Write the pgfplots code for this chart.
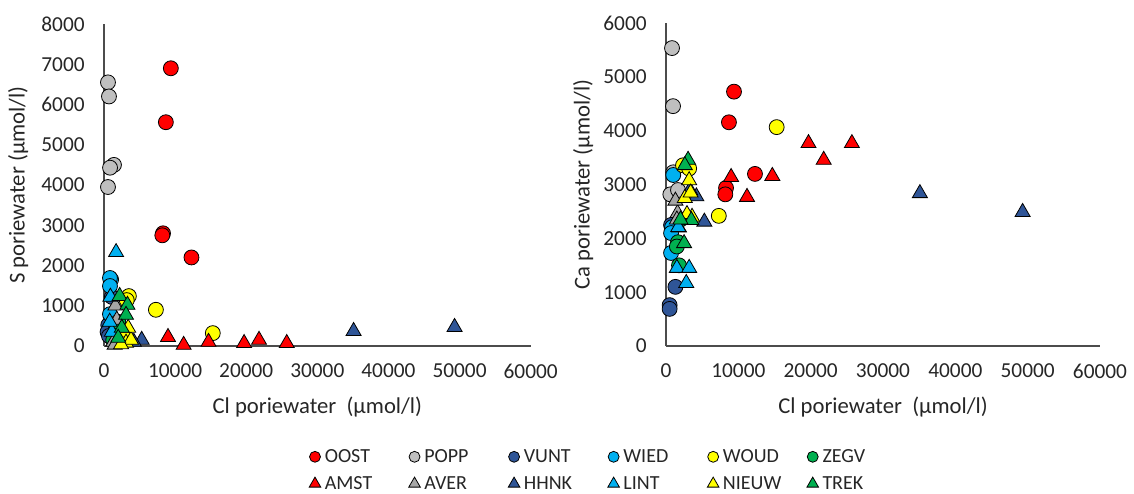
\documentclass[border=0pt]{standalone}
\usepackage{fontspec}
\setmainfont{Carlito}
\usepackage{pgfplots}
\pgfplotsset{compat=1.18}
\definecolor{cRed}{HTML}{FF0000}
\definecolor{cGray}{HTML}{BFBFBF}
\definecolor{cGrayT}{HTML}{A6A6A6}
\definecolor{cNavy}{HTML}{2F5597}
\definecolor{cSky}{HTML}{00B0F0}
\definecolor{cYel}{HTML}{FFFF00}
\definecolor{cGreen}{HTML}{00B050}
\pgfplotsset{
  base/.style={
    scale only axis,
    axis lines*=left,
    axis line style={black!70, line width=0.8pt},
    major tick length=0pt,
    xmin=0, xmax=60000,
    xtick={0,10000,20000,30000,40000,50000,60000},
    scaled ticks=false,
    /pgf/number format/1000 sep={},
    /pgf/number format/assume math mode=true,
    ticklabel style={font=\fontsize{16}{18}\selectfont, text=black!85},
    yticklabel style={xshift=-11pt},
    xticklabel style={yshift=-10pt},
    label style={font=\fontsize{17}{20}\selectfont, text=black!85},
    xlabel style={at={(axis description cs:0.5,-0.19)}, anchor=center},
    clip=false,
  },
  circ/.style={only marks, mark=*, mark size=5.6pt, mark options={draw=black, line width=0.6pt, fill=#1},
    legend image post style={mark size=4.1pt}},
  tri/.style={only marks, mark=triangle*, mark size=6.5pt, mark options={draw=black, line width=0.6pt, fill=#1},
    legend image post style={mark size=5pt}},
}
\newcommand{\lb}[1]{\makebox[61pt][l]{#1}}
\begin{document}
\begin{tikzpicture}
\useasboundingbox (-78pt,-110.25pt) rectangle (772.5pt,259.5pt);
\begin{axis}[base,
  width=320pt, height=241.5pt,
  ymin=0, ymax=8000,
  ytick={0,1000,2000,3000,4000,5000,6000,7000,8000},
  xlabel={Cl poriewater\ \ (µmol/l)},
  ylabel={S poriewater (µmol/l)},
  ylabel style={at={(axis description cs:-0.201,0.5)}, anchor=center},
  legend columns=6,
  legend style={at={(0.471,-0.386)}, anchor=west, draw=none, fill=none,
    font=\fontsize{15}{17}\selectfont, row sep=5pt, text=black!85,
    /tikz/every odd column/.append style={column sep=1pt}},
]
\addplot[circ=cRed] coordinates {(9400,6900)(8700,5560)(8300,2800)(8200,2750)(12300,2200)};
\addlegendentry{\lb{OOST}}
\addplot[circ=cGray] coordinates {(560,6550)(700,6200)(1400,4500)(850,4430)(560,3950)};
\addlegendentry{\lb{POPP}}
\addplot[circ=cNavy] coordinates {(1100,1220)(600,520)(500,350)(700,250)};
\addlegendentry{\lb{VUNT}}
\addplot[circ=cSky] coordinates {(1000,1650)(840,1690)(840,1490)(840,790)};
\addlegendentry{\lb{WIED}}
\addplot[circ=cYel] coordinates {(3500,1240)(3200,1140)(7300,900)(15300,320)};
\addlegendentry{\lb{WOUD}}
\addplot[circ=cGreen] coordinates {(1700,450)(1500,250)(1300,150)(2000,600)};
\addlegendentry{\lb{ZEGV}}
\addplot[tri=cRed] coordinates {(9000,220)(11200,25)(14700,100)(19700,70)(21800,150)(25700,70)};
\addlegendentry{\lb{AMST}}
\addplot[tri=cGrayT] coordinates {(1600,1000)(1300,100)(1500,30)(1800,650)};
\addlegendentry{\lb{AVER}}
\addplot[tri=cNavy] coordinates {(35100,370)(49300,470)(5300,150)(4200,100)};
\addlegendentry{\lb{HHNK}}
\addplot[tri=cSky] coordinates {(1700,2330)(900,1220)(1100,350)(800,600)};
\addlegendentry{\lb{LINT}}
\addplot[tri=cYel] coordinates {(2900,330)(3100,80)(3800,150)(2400,40)(3400,450)};
\addlegendentry{\lb{NIEUW}}
\addplot[tri=cGreen] coordinates {(2200,1240)(3300,1020)(3100,770)(2500,450)(2000,200)};
\addlegendentry{\lb{TREK}}
\end{axis}
\begin{axis}[base, at={(421.5pt,0pt)},
  width=325.5pt, height=242pt,
  ymin=0, ymax=6000,
  ytick={0,1000,2000,3000,4000,5000,6000},
  xlabel={Cl poriewater\ \ (µmol/l)},
  ylabel={Ca poriewater (µmol/l)},
  ylabel style={at={(axis description cs:-0.191,0.5)}, anchor=center},
]
\addplot[circ=cRed] coordinates {(9400,4730)(8700,4160)(8300,2940)(8200,2820)(12300,3200)};
\addplot[circ=cGray] coordinates {(830,5540)(970,4460)(1000,3230)(600,2820)(1660,2900)};
\addplot[circ=cNavy] coordinates {(700,2250)(1300,1100)(500,760)(500,690)};
\addplot[circ=cSky] coordinates {(1000,3180)(840,2210)(700,2100)(700,1730)};
\addplot[circ=cYel] coordinates {(15300,4070)(7300,2420)(2350,3360)(3200,3300)};
\addplot[circ=cGreen] coordinates {(1660,1930)(1800,1500)(1500,1850)(2000,2350)};
\addplot[tri=cRed] coordinates {(9000,3140)(11200,2770)(14700,3160)(19700,3770)(21800,3460)(25700,3770)};
\addplot[tri=cGrayT] coordinates {(1600,2470)(1300,2700)(1500,2350)(1800,2200)};
\addplot[tri=cNavy] coordinates {(35100,2840)(49300,2490)(5300,2310)(4200,2780)(3300,2900)};
\addplot[tri=cSky] coordinates {(1700,2210)(1500,1450)(3200,1450)(2800,1170)};
\addplot[tri=cYel] coordinates {(3200,3080)(2600,2750)(3600,2400)(2900,2450)(3400,2850)};
\addplot[tri=cGreen] coordinates {(3050,3460)(2600,3360)(3500,2340)(2500,1910)(2000,2350)};
\end{axis}
\end{tikzpicture}
\end{document}
